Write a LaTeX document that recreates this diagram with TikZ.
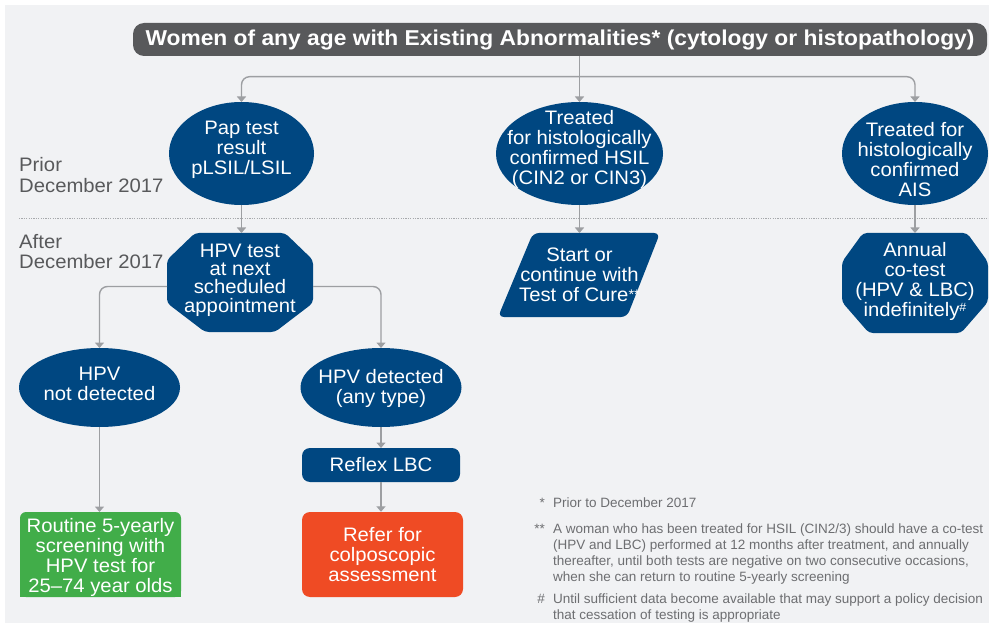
\documentclass[tikz,border=0pt]{standalone}
\usepackage{fontspec}
\setmainfont{Liberation Sans}
\newfontfamily\bodyfont{Liberation Sans}[FakeStretch=1.04,Ligatures=TeX]
\newfontfamily\titlefont{Liberation Sans}[FakeStretch=1.06,Ligatures=TeX]
\usetikzlibrary{shapes.geometric,arrows.meta,calc}
\definecolor{bgc}{RGB}{241,242,244}
\definecolor{titlec}{RGB}{88,89,91}
\definecolor{bluec}{RGB}{0,71,129}
\definecolor{greenc}{RGB}{65,173,73}
\definecolor{orangec}{RGB}{239,75,36}
\definecolor{arrowc}{RGB}{157,159,162}
\definecolor{dotc}{RGB}{167,169,172}
\definecolor{labelc}{RGB}{88,89,91}
\definecolor{fnc}{RGB}{109,110,113}
\newcommand\fs[2]{\fontsize{#1}{#2}\selectfont}
\begin{document}
\begin{tikzpicture}[x=1pt,y=-1pt,
  shp/.style={fill=bluec, draw=none, inner sep=0pt, outer sep=0pt},
  ell/.style={shp, ellipse},
  box/.style={inner sep=0pt, outer sep=0pt, draw=none},
  txt/.style={text=white, align=center, font=\bodyfont\fs{19.5}{20}, inner sep=0pt, outer sep=0pt},
  arr/.style={draw=arrowc, line width=1.4pt, rounded corners=8pt, -{Triangle[width=9pt,length=5.5pt]}},
  lbl/.style={text=labelc, anchor=base west, font=\bodyfont\fs{19.5}{20}, inner sep=0pt},
  fn/.style={text=fnc, anchor=base west, font=\fs{13.5}{16}, inner sep=0pt},
  fnsym/.style={text=fnc, anchor=base east, font=\fs{13.5}{16}, inner sep=0pt},
]
\useasboundingbox (0,0) rectangle (989,623);
\fill[bgc] (5,5) rectangle (989,623);

% title
\node[fill=titlec, rounded corners=11pt, minimum width=854pt, minimum height=33pt, inner sep=0pt, text=white, font=\titlefont\bfseries\fs{21.5}{22}] (title) at (560,39.5) {Women of any age with Existing Abnormalities* (cytology or histopathology)};

% side labels and separator
\node[lbl] (prior) at (19,172) {\begin{tabular}[t]{@{}l@{}}Prior\\December 2017\end{tabular}};
\node[lbl] (after) at (19,248.5) {\begin{tabular}[t]{@{}l@{}}After\\December 2017\end{tabular}};
\coordinate (sepL) at (19,218);
\coordinate (sepR) at (989,218);
\draw[dotc, line width=0.9pt, dash pattern=on 1.1pt off 1.3pt] (sepL) -- (sepR);

% first row
\node[ell, minimum width=145pt, minimum height=103pt] (pap) at (241.5,153.5) {};
\node[txt] (papt) at (241.5,149.5) {Pap test\\result\\pLSIL/LSIL};
\node[ell, minimum width=167pt, minimum height=103pt] (hsil) at (579.5,153.5) {};
\node[txt] (hsilt) at (579.5,149.5) {Treated\\for histologically\\confirmed HSIL\\(CIN2 or CIN3)};
\node[ell, minimum width=146pt, minimum height=103pt] (ais) at (915,153.5) {};
\node[txt] (aist) at (915,160) {Treated for\\histologically\\confirmed\\AIS};

% second row
\fill[bluec, rounded corners=4pt] (195,233) -- (285,233) -- (313,260) -- (313,303) -- (275,332) -- (205,332) -- (167,303) -- (167,260) -- cycle;
\node[box, minimum width=146pt, minimum height=99pt] (hpvt) at (240,282.5) {};
\node[txt, font=\bodyfont\fs{19.5}{18.3}] (hpvtt) at (240,280) {HPV test\\at next\\scheduled\\appointment};
\fill[bluec, rounded corners=6pt] (498,317) -- (533,233) -- (660,233) -- (627,317) -- cycle;
\node[txt, minimum width=160pt, minimum height=84pt] (cure) at (579.5,275) {Start or\\continue with\\Test of Cure\raisebox{2.5pt}{\fs{14}{14}**}};
\fill[bluec, rounded corners=4pt] (863,233) -- (967,233) -- (988,262) -- (988,302) -- (961,333) -- (869,333) -- (842,302) -- (842,262) -- cycle;
\node[box, minimum width=146pt, minimum height=100pt] (cot) at (915,283) {};
\node[txt] (cott) at (915,281) {Annual\\co-test\\(HPV \& LBC)\\indefinitely\raisebox{5pt}{\fs{12}{12}\#}};

% third row
\node[ell, minimum width=161pt, minimum height=79pt] (neg) at (99.5,387.5) {};
\node[txt] (negt) at (99.5,384) {HPV\\not detected};
\node[ell, minimum width=161pt, minimum height=79pt] (pos) at (381,387.5) {};
\node[txt] (post) at (381,388.5) {HPV detected\\(any type)};
\node[shp, rounded corners=8pt, minimum width=158pt, minimum height=34pt, text=white, font=\bodyfont\fs{19.5}{20}] (reflex) at (381,465) {Reflex LBC};

% bottom boxes
\fill[greenc, rounded corners=6pt] (20,512) rectangle (181,597);
\fill[greenc] (20,545) rectangle (181,597);
\node[box, minimum width=161pt, minimum height=85pt] (rout) at (100.5,554.5) {};
\node[txt] (routt) at (100.5,557) {Routine 5-yearly\\screening with\\HPV test for\\25–74 year olds};
\node[fill=orangec, rounded corners=8pt, inner sep=0pt, minimum width=161pt, minimum height=85pt] (refer) at (382.5,554.5) {};
\node[txt] (refert) at (382.5,555) {Refer for\\colposcopic\\assessment};

% footnotes
\node[fnsym] (s1) at (545,507.5) {*};
\node[fn] (f1) at (553,507.5) {Prior to December 2017};
\node[fnsym] (s2) at (545,533) {**};
\node[fn] (f2) at (553,533) {\begin{tabular}[t]{@{}l@{}}A woman who has been treated for HSIL (CIN2/3) should have a co-test\\(HPV and LBC) performed at 12 months after treatment, and annually\\thereafter, until both tests are negative on two consecutive occasions,\\when she can return to routine 5-yearly screening\end{tabular}};
\node[fnsym] (s3) at (545,603) {\#};
\node[fn] (f3) at (553,603) {\begin{tabular}[t]{@{}l@{}}Until sufficient data become available that may support a policy decision\\that cessation of testing is appropriate\end{tabular}};

% connectors
\coordinate (j1) at (579.5,76.7);
\draw[arr] (title.south -| hsil.north) -- (hsil.north);
\draw[arr] (j1) -| (pap.north);
\draw[arr] (j1) -| (ais.north);
\draw[arr] (pap.south) -- (pap.south |- hpvt.north);
\draw[arr] (hsil.south) -- (cure.north);
\draw[arr] (ais.south) -- (cot.north);
\draw[arr] ([yshift=-4pt]hpvt.west) -| (neg.north);
\draw[arr] ([yshift=-4pt]hpvt.east) -| (pos.north);
\draw[arr] (neg.south) -- (neg.south |- rout.north);
\draw[arr] (pos.south) -- (reflex.north);
\draw[arr] (reflex.south) -- (reflex.south |- refer.north);
\end{tikzpicture}
\end{document}
